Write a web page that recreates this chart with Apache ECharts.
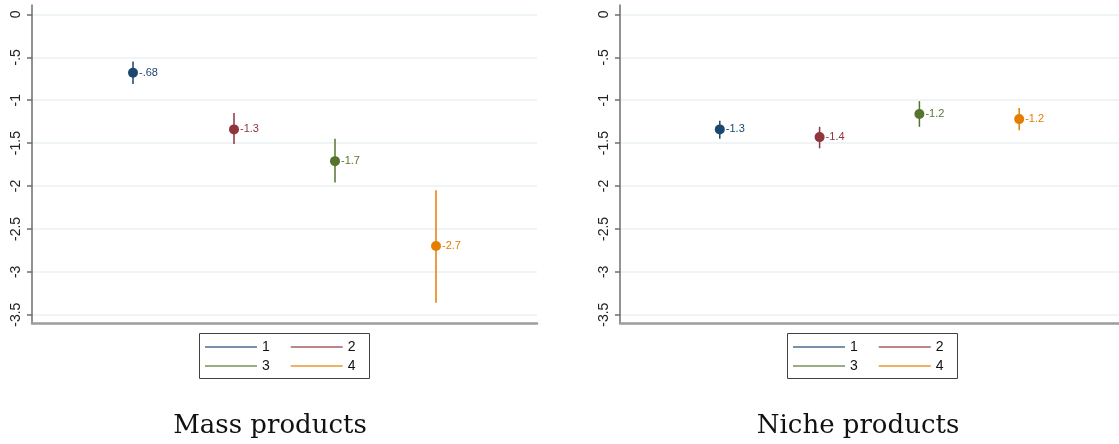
<!DOCTYPE html>
<html>
<head>
<meta charset="utf-8">
<script src="https://cdn.jsdelivr.net/npm/echarts@6/dist/echarts.min.js"></script>
<style>
  html, body { margin: 0; padding: 0; background: #fff; }
  #chart { width: 1119px; height: 444px; }
</style>
</head>
<body>
<div id="chart"></div>
<script>
// Groups shown in each panel
const groups = ['1', '2', '3', '4'];
const panelTitles = ['Mass products', 'Niche products'];
const yTicks = [0, -0.5, -1, -1.5, -2, -2.5, -3, -3.5];

// Point estimates with lower / upper confidence bounds
const massEst = [-0.68, -1.34, -1.71, -2.70];
const massLo  = [-0.81, -1.51, -1.96, -3.36];
const massHi  = [-0.55, -1.15, -1.45, -2.05];

const nicheEst = [-1.34, -1.43, -1.16, -1.22];
const nicheLo  = [-1.45, -1.56, -1.31, -1.35];
const nicheHi  = [-1.24, -1.31, -1.01, -1.09];

const colors = ['#1a476f', '#90353b', '#55752f', '#e37e00'];

const panels = [
  { est: massEst, lo: massLo, hi: massHi, left: 32, right: 582, legendX: 205, boxX: 199.5, titleX: 270 },
  { est: nicheEst, lo: nicheLo, hi: nicheHi, left: 620, right: -6, legendX: 793, boxX: 787.5, titleX: 858 }
];

// Stata-style number format: two significant digits, no leading zero
function fmt(v) {
  const s = Number(Number(v).toPrecision(2)).toString();
  return s.replace(/^(-?)0\./, '$1.');
}

const font = 'Liberation Sans, Arial, sans-serif';
const grids = [], xAxes = [], yAxes = [], series = [], legends = [], graphics = [];

panels.forEach((p, pi) => {
  grids.push({ left: p.left, right: p.right, top: 5, bottom: 120.7 });
  xAxes.push({
    type: 'value', gridIndex: pi, min: 0, max: 5,
    axisLine: { show: true, onZero: false, lineStyle: { color: '#9c9c9c', width: 2.5 } },
    axisTick: { show: false }, axisLabel: { show: false }, splitLine: { show: false }
  });
  yAxes.push({
    type: 'value', gridIndex: pi, min: -3.6, max: 0.11,
    axisLine: { show: true, lineStyle: { color: '#6e6e6e', width: 1.5 } },
    axisTick: { show: true, length: 5, customValues: yTicks, lineStyle: { color: '#6e6e6e', width: 1.5 } },
    axisLabel: {
      customValues: yTicks, rotate: 90, margin: 9, fontSize: 14, color: '#222',
      fontFamily: font, formatter: v => fmt(v)
    },
    splitLine: { show: true, lineStyle: { color: '#eaf1f3', width: 1.5 } }
  });

  groups.forEach((g, i) => {
    // confidence interval spike
    series.push({
      type: 'custom', name: g, xAxisIndex: pi, yAxisIndex: pi,
      data: [[i + 1, p.lo[i], p.hi[i]]],
      encode: { x: 0, y: [1, 2] },
      itemStyle: { color: colors[i] },
      renderItem: (params, api) => {
        const a = api.coord([api.value(0), api.value(1)]);
        const b = api.coord([api.value(0), api.value(2)]);
        return {
          type: 'line',
          shape: { x1: a[0], y1: a[1], x2: b[0], y2: b[1] },
          style: { stroke: colors[i], lineWidth: 1.5 }
        };
      },
      silent: true, z: 2
    });
    // point estimate with value label
    series.push({
      type: 'scatter', name: g, xAxisIndex: pi, yAxisIndex: pi,
      data: [[i + 1, p.est[i]]],
      symbol: 'circle', symbolSize: 10,
      itemStyle: { color: colors[i], opacity: 1 },
      label: {
        show: true, position: 'right', distance: 1,
        formatter: prm => fmt(prm.value[1]),
        fontSize: 11, color: colors[i], fontFamily: font
      },
      silent: true, z: 3
    });
  });

  [[0, 1, 340], [2, 3, 359]].forEach(([a, b, top]) => {
    legends.push({
      left: p.legendX, top: top, orient: 'horizontal', padding: 0,
      itemWidth: 52, itemHeight: 2, itemGap: 21, itemTextGap: 8,
      icon: 'rect', selectedMode: false,
      textStyle: { fontSize: 14, color: '#111', fontFamily: font, lineHeight: 14 },
      data: [a, b].map(k => ({ name: groups[k], itemStyle: { color: colors[k], opacity: 0.6 } }))
    });
  });

  graphics.push({
    type: 'rect', silent: true,
    shape: { x: p.boxX, y: 333.5, width: 170, height: 45 },
    style: { fill: 'none', stroke: '#404040', lineWidth: 1 }
  });
  graphics.push({
    type: 'text', silent: true, x: p.titleX, y: 426,
    style: {
      text: panelTitles[pi], fill: '#111', align: 'center', verticalAlign: 'middle',
      font: '26px "DejaVu Serif", serif'
    }
  });
});

const chart = echarts.init(document.getElementById('chart'));
chart.setOption({
  animation: false,
  backgroundColor: '#fff',
  grid: grids,
  xAxis: xAxes,
  yAxis: yAxes,
  legend: legends,
  series: series,
  graphic: graphics
});
</script>
</body>
</html>
